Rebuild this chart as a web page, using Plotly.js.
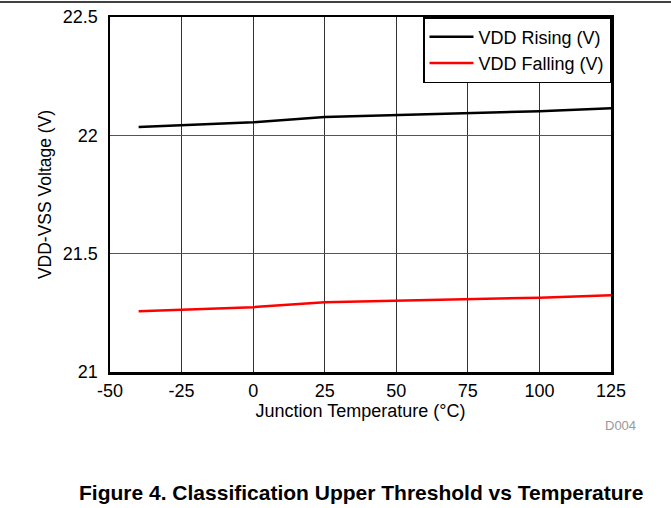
<!DOCTYPE html>
<html>
<head>
<meta charset="utf-8">
<script src="https://cdn.plot.ly/plotly-3.0.1.min.js"></script>
<style>html,body{margin:0;padding:0;background:#fff;}#chart{width:671px;height:508px;}</style>
</head>
<body>
<div id="chart"></div>
<script>
const temperature = [-40, 0, 25, 50, 75, 100, 125];
const vddRising = [22.035, 22.055, 22.077, 22.085, 22.093, 22.102, 22.114];
const vddFalling = [21.257, 21.274, 21.295, 21.301, 21.307, 21.314, 21.324];
const xTicks = [-50, -25, 0, 25, 50, 75, 100, 125];
const xTickLabels = ['-50', '-25', '0', '25', '50', '75', '100', '125'];
const yTicks = [21, 21.5, 22, 22.5];
const yTickLabels = ['21', '21.5', '22', '22.5'];

const font = 'Liberation Sans, Arial, sans-serif';
const W = 671, H = 508, L = 110, R = 60, T = 17, B = 136;
const pw = W - L - R, ph = H - T - B;

const traces = [
  {x: temperature, y: vddRising, type: 'scatter', mode: 'lines', name: 'VDD Rising (V)',
   line: {color: '#000000', width: 2.5}},
  {x: temperature, y: vddFalling, type: 'scatter', mode: 'lines', name: 'VDD Falling (V)',
   line: {color: '#ff0000', width: 2.5}}
];

const layout = {
  width: W, height: H,
  margin: {l: L, r: R, t: T, b: B, pad: 0},
  paper_bgcolor: '#ffffff', plot_bgcolor: '#ffffff',
  font: {family: font, size: 18, color: '#000'},
  showlegend: true,
  legend: {x: 1, xanchor: 'right', y: 1, yanchor: 'top', bgcolor: '#ffffff',
    bordercolor: '#000', borderwidth: 1.5, font: {family: font, size: 18, color: '#000'},
    tracegroupgap: 0, itemwidth: 44},
  xaxis: {range: [-50, 125], tickvals: xTicks, ticktext: xTickLabels, ticks: '', showgrid: true, gridcolor: '#333', gridwidth: 1,
    showline: true, linecolor: '#000', linewidth: 2.5, mirror: true, zeroline: false,
    tickfont: {family: font, size: 18}, ticklabelstandoff: 1,
    title: {text: 'Junction Temperature (°C)', font: {family: font, size: 18}, standoff: 2}},
  yaxis: {range: [21, 22.5], tickvals: yTicks, ticktext: yTickLabels, ticks: '', showgrid: true, gridcolor: '#555', gridwidth: 1,
    showline: true, linecolor: '#000', linewidth: 2.5, mirror: true, zeroline: false,
    tickfont: {family: font, size: 18}, ticklabelstandoff: 6,
    title: {text: 'VDD-VSS Voltage (V)', font: {family: font, size: 17.5}, standoff: 7}},
  shapes: [
    {type: 'line', xref: 'paper', yref: 'paper', x0: -L / pw, x1: (W - L) / pw,
     y0: (H - B - 2) / ph, y1: (H - B - 2) / ph, line: {color: '#000', width: 1.5}}
  ],
  annotations: [
    {text: 'D004', xref: 'paper', yref: 'paper', x: (638 - L) / pw, y: -(425 - (H - B)) / ph,
     xanchor: 'right', yanchor: 'middle', showarrow: false, font: {family: font, size: 13, color: '#999'}},
    {text: '<b>Figure 4. Classification Upper Threshold vs Temperature</b>', xref: 'paper', yref: 'paper',
     x: (361 - L) / pw, y: -(492 - (H - B)) / ph, xanchor: 'center', yanchor: 'middle', showarrow: false,
     font: {family: font, size: 21, color: '#000'}}
  ]
};

Plotly.newPlot('chart', traces, layout, {displayModeBar: false, staticPlot: true});
</script>
</body>
</html>
